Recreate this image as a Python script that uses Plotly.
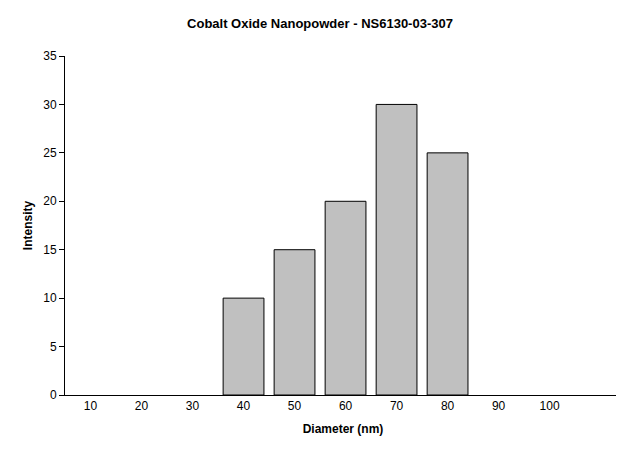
import plotly.graph_objects as go

diameters = [10, 20, 30, 40, 50, 60, 70, 80, 90, 100]
intensity = [0, 0, 0, 10, 15, 20, 30, 25, 0, 0]
y_ticks = [0, 5, 10, 15, 20, 25, 30, 35]

fig = go.Figure(go.Bar(
    x=diameters, y=intensity, width=8,
    marker=dict(color="#c0c0c0",
                line=dict(color="black", width=[1 if v > 0 else 0 for v in intensity])),
))
fig.update_layout(
    width=624, height=449,
    margin=dict(l=57, r=11, t=48, b=62, autoexpand=False),
    plot_bgcolor="white", paper_bgcolor="white",
    font=dict(family="Liberation Sans, Arial", size=12, color="black"),
    title=dict(text="<b>Cobalt Oxide Nanopowder - NS6130-03-307</b>", x=0.5, xanchor="center",
               y=0.965, yanchor="middle", font=dict(size=13)),
    showlegend=False,
)
fig.update_xaxes(range=[5, 114], tickvals=diameters, ticktext=[str(d) for d in diameters],
                 showline=True, linecolor="black", showgrid=False, ticks="", automargin=False,
                 title=dict(text="<b>Diameter (nm)</b>", font=dict(size=12), standoff=12),
                 tickfont=dict(size=12))
fig.update_yaxes(range=[0, 35], tickvals=y_ticks, showline=True, linecolor="black",
                 showgrid=False, ticks="outside", ticklen=5, tickcolor="black", automargin=False,
                 title=dict(text="<b>Intensity</b>", font=dict(size=12), standoff=8),
                 tickfont=dict(size=12), zeroline=False)
fig.write_html("out.html")
